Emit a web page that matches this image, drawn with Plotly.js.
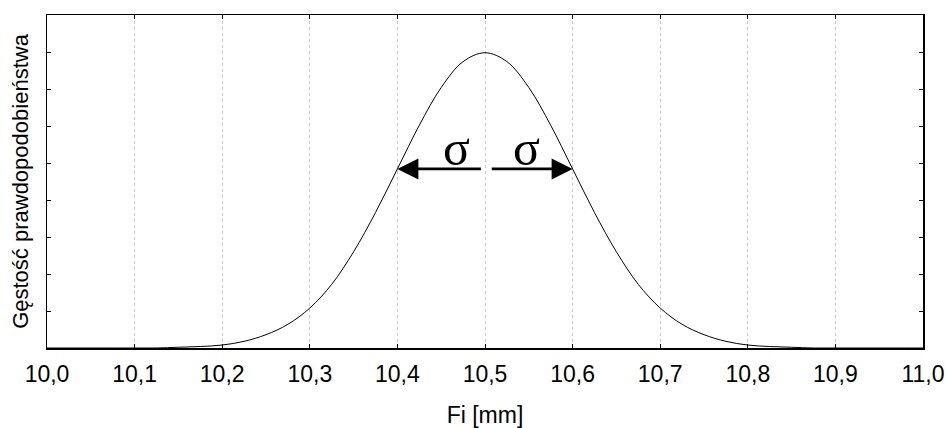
<!DOCTYPE html>
<html>
<head>
<meta charset="utf-8">
<script src="https://cdn.plot.ly/plotly-3.0.1.min.js"></script>
<style>html,body{margin:0;padding:0;background:#fff;}#chart{width:946px;height:428px;}</style>
</head>
<body>
<div id="chart"></div>
<script>
// Values
const fi = [10.000,10.025,10.050,10.075,10.100,10.125,10.150,10.175,10.200,10.225,10.250,10.275,10.300,10.325,10.350,10.375,10.400,10.425,10.450,10.475,10.500,
            10.525,10.550,10.575,10.600,10.625,10.650,10.675,10.700,10.725,10.750,10.775,10.800,10.825,10.850,10.875,10.900,10.925,10.950,10.975,11.000];
const density = [0.00,0.00,0.00,0.00,0.00,0.00,0.01,0.02,0.04,0.09,0.18,0.32,0.54,0.86,1.30,1.83,2.42,3.01,3.52,3.87,3.99,
                 3.87,3.52,3.01,2.42,1.83,1.30,0.86,0.54,0.32,0.18,0.09,0.04,0.02,0.01,0.00,0.00,0.00,0.00,0.00,0.00];
const xTickVals = [10.0,10.1,10.2,10.3,10.4,10.5,10.6,10.7,10.8,10.9,11.0];
const meanX = 10.5;
const sigmaLeftX = 10.4;
const sigmaRightX = 10.6;
const sigmaLevel = 2.42;
const sigmaLabel = 'σ';

const trace = {
  x: fi, y: density, type: 'scatter', mode: 'lines',
  line: {color: '#000', width: 1, shape: 'spline', smoothing: 1},
  hoverinfo: 'skip'
};

const serif = {family: 'Liberation Serif, Times New Roman, serif', size: 50, color: '#000'};
const arrowStyle = {xref: 'x', yref: 'y', axref: 'x', ayref: 'y', text: '', showarrow: true,
                    arrowhead: 2, arrowsize: 1.5, arrowwidth: 2.8, arrowcolor: '#000'};

const layout = {
  width: 946, height: 428,
  margin: {l: 47, r: 23, t: 15, b: 80},
  paper_bgcolor: '#fff', plot_bgcolor: '#fff',
  separators: ', ',
  font: {family: 'Liberation Sans, Arial, sans-serif', color: '#000', size: 22},
  showlegend: false,
  xaxis: {
    range: [10, 11], tickvals: xTickVals, tickformat: '.1f',
    ticks: 'inside', ticklen: 4, tickcolor: '#000', tickwidth: 1,
    ticklabelstandoff: 5,
    showline: true, linecolor: '#000', linewidth: 1.5, mirror: 'ticks',
    showgrid: true, gridcolor: '#c8c8c8', griddash: 'dot', gridwidth: 1,
    zeroline: false,
    tickfont: {size: 23},
    title: {text: 'Fi [mm]', font: {size: 23}, standoff: 26}
  },
  yaxis: {
    range: [0, 4.5], dtick: 0.5, tick0: 0,
    ticks: 'inside', ticklen: 4, tickcolor: '#000', tickwidth: 1,
    showline: true, linecolor: '#000', linewidth: 1.5, mirror: 'ticks',
    showgrid: false, zeroline: false, showticklabels: false,
    title: {text: 'Gęstość prawdopodobieństwa', font: {size: 22}, standoff: 11}
  },
  annotations: [
    Object.assign({x: sigmaLeftX, y: sigmaLevel, ax: meanX - 0.003, ay: sigmaLevel}, arrowStyle),
    Object.assign({x: sigmaRightX, y: sigmaLevel, ax: meanX + 0.006, ay: sigmaLevel}, arrowStyle),
    {x: (sigmaLeftX + meanX) / 2 + 0.018, y: sigmaLevel, xref: 'x', yref: 'y', text: sigmaLabel, showarrow: false,
     yanchor: 'bottom', yshift: -9, font: serif},
    {x: (sigmaRightX + meanX) / 2 - 0.003, y: sigmaLevel, xref: 'x', yref: 'y', text: sigmaLabel, showarrow: false,
     yanchor: 'bottom', yshift: -9, font: serif}
  ]
};

Plotly.newPlot('chart', [trace], layout, {displayModeBar: false, staticPlot: true});
</script>
</body>
</html>
